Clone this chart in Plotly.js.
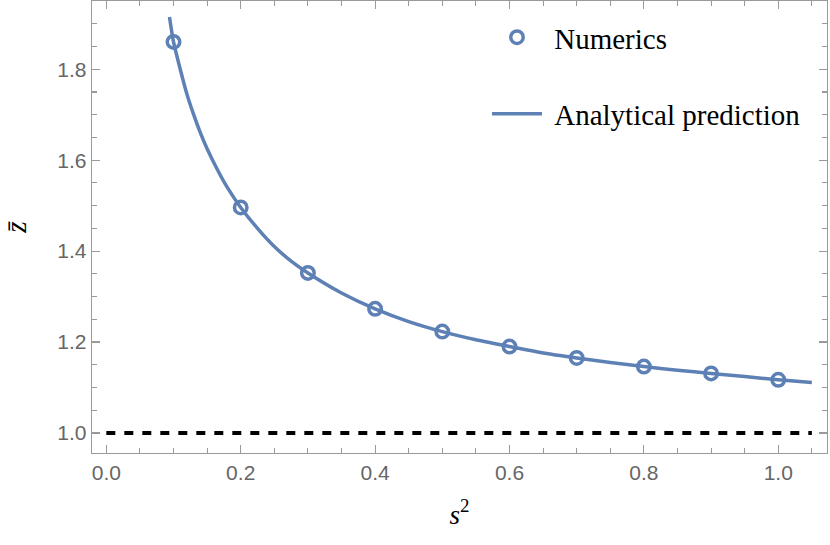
<!DOCTYPE html>
<html>
<head>
<meta charset="utf-8">
<script src="https://cdn.plot.ly/plotly-3.0.1.min.js"></script>
<style>html,body{margin:0;padding:0;background:#fff;}#chart{width:830px;height:545px;}</style>
</head>
<body>
<div id="chart"></div>
<script>
// Numerics (markers)
const numX = [0.1, 0.2, 0.3, 0.4, 0.5, 0.6, 0.7, 0.8, 0.9, 1.0];
const numY = [1.860, 1.496, 1.352, 1.273, 1.223, 1.190, 1.165, 1.146, 1.131, 1.117];
// Analytical prediction (curve)
const anaX = [0.094, 0.10, 0.11, 0.12, 0.13, 0.14, 0.15, 0.165, 0.18, 0.20, 0.225, 0.25, 0.275, 0.30, 0.35, 0.40, 0.45, 0.50, 0.55, 0.60, 0.65, 0.70, 0.75, 0.80, 0.85, 0.90, 0.95, 1.00, 1.05];
const anaY = [1.915, 1.860, 1.800, 1.745, 1.700, 1.660, 1.625, 1.580, 1.540, 1.496, 1.450, 1.410, 1.378, 1.352, 1.308, 1.273, 1.245, 1.223, 1.205, 1.190, 1.176, 1.165, 1.155, 1.146, 1.138, 1.131, 1.124, 1.117, 1.111];
// Reference level
const refX = [0, 1.05];
const refY = [1, 1];
const xTicks = [0.0, 0.2, 0.4, 0.6, 0.8, 1.0];
const xTickText = ['0.0', '0.2', '0.4', '0.6', '0.8', '1.0'];
const yTicks = [1.0, 1.2, 1.4, 1.6, 1.8];
const yTickText = ['1.0', '1.2', '1.4', '1.6', '1.8'];

const blue = '#5E81B5';
const frame = '#9a9a9a';
const tickFont = {family: 'Liberation Sans, Arial, sans-serif', size: 21, color: '#666666'};
const legFont = {family: 'Liberation Serif, Times New Roman, serif', size: 29, color: '#000'};

const traces = [
  {x: refX, y: refY, mode: 'lines', line: {color: '#000', width: 4, dash: '9px,9px'}, showlegend: false, hoverinfo: 'skip'},
  {x: anaX, y: anaY, mode: 'lines', name: '\u00a0Analytical prediction', line: {color: blue, width: 3.5, shape: 'spline', smoothing: 0.6}, legend: 'legend2'},
  {x: numX, y: numY, mode: 'markers', name: '\u00a0Numerics', marker: {symbol: 'circle-open', size: 12.5, color: blue, line: {width: 3.5, color: blue}}, legend: 'legend'}
];

const axisCommon = {
  showline: true, mirror: 'allticks', linecolor: frame, linewidth: 1.3,
  ticks: 'inside', ticklen: 8, tickwidth: 1.2, tickcolor: frame,
  showgrid: false, zeroline: false, tickfont: tickFont,
  minor: {ticks: 'inside', ticklen: 5, tickwidth: 1.1, tickcolor: frame, dtick: 0.05, showgrid: false}
};

const layout = {
  width: 830, height: 545,
  margin: {l: 92, r: 3, t: 1, b: 92},
  paper_bgcolor: '#fff', plot_bgcolor: '#fff',
  xaxis: Object.assign({}, axisCommon, {
    range: [-0.0213, 1.0725], tickmode: 'array', tickvals: xTicks, ticktext: xTickText,
    title: {text: '<i>s</i><sup>2</sup>', font: {family: 'Liberation Serif, serif', size: 27, color: '#000'}, standoff: 22}
  }),
  yaxis: Object.assign({}, axisCommon, {
    range: [0.956, 1.950], tickmode: 'array', tickvals: yTicks, ticktext: yTickText,
    title: {text: '<i>z\u0304</i>', font: {family: 'Liberation Serif, serif', size: 29, color: '#000'}, standoff: 24}
  }),
  legend: {x: 0.5374, y: 0.976, xanchor: 'left', yanchor: 'top', bgcolor: 'rgba(0,0,0,0)', font: legFont, itemwidth: 50},
  legend2: {x: 0.5374, y: 0.8065, xanchor: 'left', yanchor: 'top', bgcolor: 'rgba(0,0,0,0)', font: legFont, itemwidth: 50},
  showlegend: true
};

Plotly.newPlot('chart', traces, layout, {displayModeBar: false, staticPlot: true});
</script>
</body>
</html>
